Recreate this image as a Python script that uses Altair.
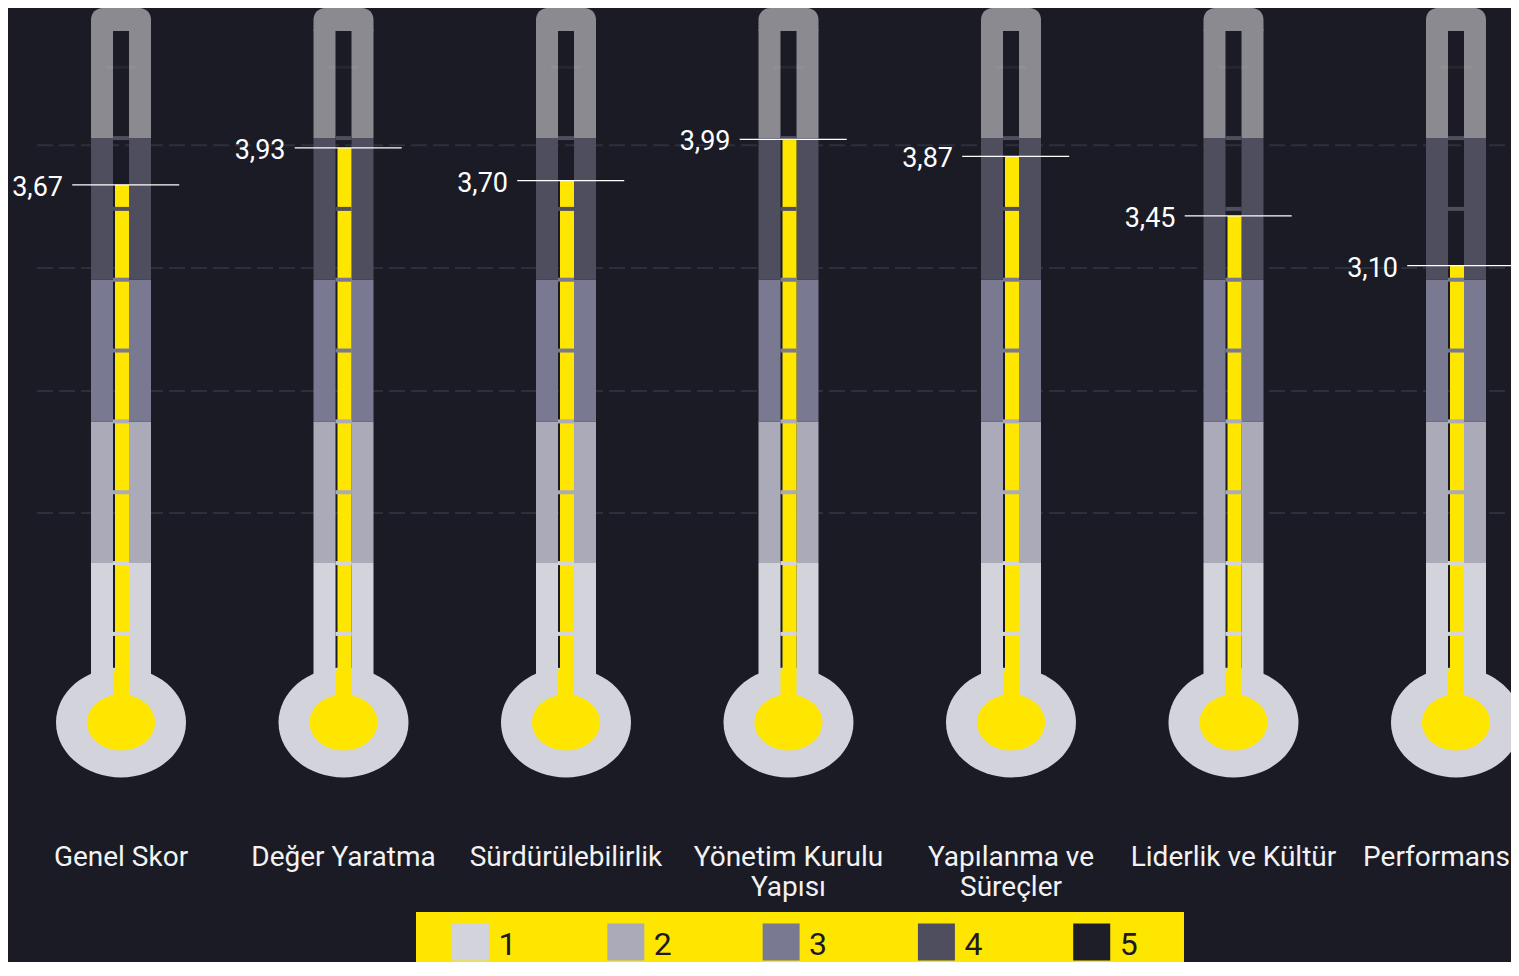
import altair as alt
import pandas as pd

# ---------------- data ----------------
CATEGORIES = ["Genel Skor", "Değer Yaratma", "Sürdürülebilirlik",
              "Yönetim Kurulu\nYapısı", "Yapılanma ve\nSüreçler",
              "Liderlik ve Kültür", "Performans"]
SCORES = [3.67, 3.93, 3.70, 3.99, 3.87, 3.45, 3.10]
SCORE_LABELS = ["3,67", "3,93", "3,70", "3,99", "3,87", "3,45", "3,10"]
LEVELS = ["1", "2", "3", "4", "5"]
LEVEL_COLORS = ["#d3d3dc", "#abaab9", "#7a7992", "#4f4e5f", "#1e1e28"]
LEVEL_EDGES = [1, 2, 3, 4]
SCALE_MARKS = [0.5, 1.0, 1.5, 2.0, 2.5, 3.0, 3.5, 4.0]
GHOST_MARK = [4.5]
GRID_LEVELS = [1.353, 2.214, 3.082, 3.950]

# ---------------- style / layout ----------------
TOP_GRAY = "#8b8a90"
YELLOW = "#ffe600"
BG = "#1b1b25"
FONT = "Roboto"
W, H = 1503, 954
X_DOMAIN = [-0.5079, 6.2472]
Y_DOMAIN = [-1.816, 4.918]
BULB = -0.125
CH_BOTTOM = 0.233
CH_TOP = 4.756
LABEL_Y = -1.139
GRID_X0 = -0.3775
LEG_BOX = (1.3258, 4.7775, -1.4626, Y_DOMAIN[0])
LEG_X0, LEG_STEP, LEG_Y, LEG_TEXT_Y = 1.5708, 0.698, -1.675, -1.767

xs = alt.Scale(domain=X_DOMAIN, nice=False, zero=False, padding=0)
ys = alt.Scale(domain=Y_DOMAIN, nice=False, zero=False, padding=0)


def X(f):
    return alt.X(f"{f}:Q", scale=xs, axis=None)


def Y(f):
    return alt.Y(f"{f}:Q", scale=ys, axis=None)


def ellipse(ratio):
    k = 0.5523
    e = ratio
    return (f"M-1,0C-1,{-k*e:.4f} {-k},{-e:.4f} 0,{-e:.4f}"
            f"C{k},{-e:.4f} 1,{-k*e:.4f} 1,0"
            f"C1,{k*e:.4f} {k},{e:.4f} 0,{e:.4f}"
            f"C{-k},{e:.4f} -1,{k*e:.4f} -1,0Z")


n = len(CATEGORIES)
cols = pd.DataFrame({"i": range(n), "cat": CATEGORIES,
                     "score": SCORES, "label": SCORE_LABELS})
cols["bulb"] = BULB
cols["ch_bottom"] = CH_BOTTOM
cols["ch_bottom2"] = CH_BOTTOM + 0.01
cols["ch_top"] = CH_TOP
cols["top"] = Y_DOMAIN[1]
cols["label_y"] = LABEL_Y

band_rows = []
for i in range(n):
    lo = BULB
    for k, hi in enumerate(LEVEL_EDGES):
        band_rows.append({"i": i, "lo": lo, "hi": hi, "color": LEVEL_COLORS[k]})
        lo = hi
    band_rows.append({"i": i, "lo": lo, "hi": CH_TOP + 0.01, "color": TOP_GRAY})
bands = pd.DataFrame(band_rows)

tick_rows = []
for i in range(n):
    for v in SCALE_MARKS:
        k = min(int(-(-v // 1)) - 1, 3)
        tick_rows.append({"i": i, "v": v, "color": LEVEL_COLORS[k]})
ticks = pd.DataFrame(tick_rows)
ghosts = pd.DataFrame([{"i": i, "v": v} for i in range(n) for v in GHOST_MARK])

grid = pd.DataFrame({"g": GRID_LEVELS})
grid["x0"] = GRID_X0
grid["x1"] = X_DOMAIN[1]
box = pd.DataFrame({"x0": [LEG_BOX[0]], "x1": [LEG_BOX[1]],
                    "y0": [LEG_BOX[2]], "y1": [LEG_BOX[3]]})
legend = pd.DataFrame({"level": LEVELS, "color": LEVEL_COLORS,
                       "u": [LEG_X0 + j * LEG_STEP for j in range(len(LEVELS))]})
legend["ly"] = LEG_Y
legend["ty"] = LEG_TEXT_Y

color_id = alt.Color("color:N", scale=None, legend=None)

grid_l = alt.Chart(grid).mark_rule(strokeDash=[16, 6], strokeWidth=2, color="#2f2f3b").encode(
    x=X("x0"), x2="x1:Q", y=Y("g"))

wall_l = alt.Chart(bands).mark_bar(width=22, xOffset=-19).encode(
    x=X("i"), y=Y("lo"), y2="hi:Q", color=color_id)
wall_r = alt.Chart(bands).mark_bar(width=22, xOffset=19).encode(
    x=X("i"), y=Y("lo"), y2="hi:Q", color=color_id)
cap = alt.Chart(cols).mark_bar(width=60, color=TOP_GRAY,
                               cornerRadiusTopLeft=16, cornerRadiusTopRight=16).encode(
    x=X("i"), y=Y("ch_top"), y2="top:Q")

bulb_outer = alt.Chart(cols).mark_point(shape=ellipse(0.846), size=16900, filled=True,
                                        opacity=1, color=LEVEL_COLORS[0], strokeWidth=0).encode(
    x=X("i"), y=Y("bulb"))
yellow_low = alt.Chart(cols).mark_bar(width=16, color=YELLOW).encode(
    x=X("i"), y=Y("bulb"), y2="ch_bottom2:Q")
yellow_fill = alt.Chart(cols).mark_bar(width=14, xOffset=1, color=YELLOW).encode(
    x=X("i"), y=Y("ch_bottom"), y2="score:Q")
bulb_inner = alt.Chart(cols).mark_point(shape=ellipse(0.824), size=4624, filled=True,
                                        opacity=1, color=YELLOW, strokeWidth=0).encode(
    x=X("i"), y=Y("bulb"))

tick_l = alt.Chart(ticks).mark_tick(orient="horizontal", size=16, thickness=4, opacity=1).encode(
    x=X("i"), y=Y("v"), color=color_id)
ghost_l = alt.Chart(ghosts).mark_tick(orient="horizontal", size=30, thickness=3,
                                      color="#ffffff", opacity=0.05).encode(x=X("i"), y=Y("v"))

value_line = alt.Chart(cols).mark_tick(orient="horizontal", size=107, thickness=1.3,
                                       color="#ffffff", opacity=1, xOffset=4.7).encode(
    x=X("i"), y=Y("score"))
value_text = alt.Chart(cols).mark_text(align="right", baseline="middle", dx=-58, dy=3,
                                       fontSize=27, font=FONT, color="#ffffff").encode(
    x=X("i"), y=Y("score"), text="label:N")

label_style = dict(baseline="alphabetic", lineBreak="\n", lineHeight=30, fontSize=28,
                   font=FONT, color="#f2f2f2")
cat_text = alt.Chart(cols).transform_filter(f"datum.i < {n - 1}").mark_text(
    align="center", **label_style).encode(x=X("i"), y=Y("label_y"), text="cat:N")
cat_text_last = alt.Chart(cols).transform_filter(f"datum.i == {n - 1}").mark_text(
    align="right", dx=54, **label_style).encode(x=X("i"), y=Y("label_y"), text="cat:N")

leg_box = alt.Chart(box).mark_rect(color=YELLOW).encode(
    x=X("x0"), x2="x1:Q", y=Y("y0"), y2="y1:Q")
leg_sw = alt.Chart(legend).mark_square(size=37 * 37, filled=True, opacity=1, strokeWidth=0).encode(
    x=X("u"), y=Y("ly"), color=color_id)
leg_txt = alt.Chart(legend).mark_text(align="left", baseline="alphabetic", dx=28,
                                      fontSize=32, font=FONT, color=BG).encode(
    x=X("u"), y=Y("ty"), text="level:N")

chart = alt.layer(
    grid_l, wall_l, wall_r, cap, bulb_outer, yellow_low, yellow_fill, bulb_inner,
    tick_l, ghost_l, value_line, value_text, cat_text, cat_text_last,
    leg_box, leg_sw, leg_txt
).properties(
    width=W, height=H, padding=0, background=BG,
    autosize=alt.AutoSizeParams(type="none")
).configure_view(strokeWidth=0)

chart.save("out.html", embed_options={"renderer": "svg", "actions": False})
